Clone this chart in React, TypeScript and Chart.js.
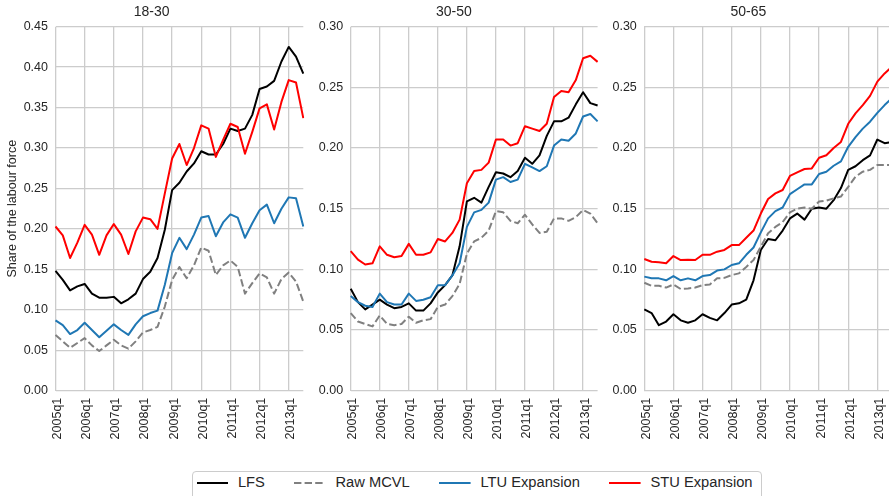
import React, { useEffect, useRef } from 'react';
import { Chart, registerables } from 'chart.js';

Chart.register(...registerables);

const FONT = '"Liberation Sans", Arial, Helvetica, sans-serif';
const TEXT = '#262626';
const GRID = '#cccccc';

const quarters = [
  '2005q1', '2005q2', '2005q3', '2005q4',
  '2006q1', '2006q2', '2006q3', '2006q4',
  '2007q1', '2007q2', '2007q3', '2007q4',
  '2008q1', '2008q2', '2008q3', '2008q4',
  '2009q1', '2009q2', '2009q3', '2009q4',
  '2010q1', '2010q2', '2010q3', '2010q4',
  '2011q1', '2011q2', '2011q3', '2011q4',
  '2012q1', '2012q2', '2012q3', '2012q4',
  '2013q1', '2013q2', '2013q3',
];

const yearTicks = ['2005q1', '2006q1', '2007q1', '2008q1', '2009q1', '2010q1', '2011q1', '2012q1', '2013q1'];

const seriesNames = ['LFS', 'Raw MCVL', 'LTU Expansion', 'STU Expansion'];
const panelTitles = ['18-30', '30-50', '50-65'];
const yMaxes = [0.45, 0.3, 0.3];

// 18-30
const lfs1830 = [0.148, 0.137, 0.124, 0.129, 0.132, 0.120, 0.115, 0.115, 0.116, 0.108, 0.113, 0.120, 0.138, 0.147, 0.164, 0.199, 0.248, 0.257, 0.271, 0.281, 0.296, 0.292, 0.292, 0.305, 0.324, 0.321, 0.324, 0.341, 0.373, 0.376, 0.383, 0.407, 0.425, 0.413, 0.392];
const mcvl1830 = [0.069, 0.061, 0.053, 0.059, 0.065, 0.056, 0.049, 0.056, 0.063, 0.056, 0.052, 0.061, 0.072, 0.075, 0.079, 0.104, 0.137, 0.153, 0.139, 0.155, 0.177, 0.173, 0.143, 0.155, 0.161, 0.153, 0.120, 0.133, 0.145, 0.140, 0.120, 0.138, 0.146, 0.135, 0.110];
const ltu1830 = [0.087, 0.081, 0.070, 0.075, 0.084, 0.075, 0.066, 0.074, 0.082, 0.075, 0.069, 0.082, 0.092, 0.096, 0.099, 0.131, 0.170, 0.189, 0.175, 0.193, 0.214, 0.216, 0.191, 0.208, 0.218, 0.214, 0.189, 0.207, 0.223, 0.230, 0.207, 0.225, 0.239, 0.238, 0.203];
const stu1830 = [0.203, 0.192, 0.164, 0.183, 0.205, 0.193, 0.168, 0.192, 0.206, 0.193, 0.169, 0.197, 0.214, 0.212, 0.200, 0.244, 0.287, 0.305, 0.279, 0.300, 0.328, 0.324, 0.289, 0.310, 0.330, 0.326, 0.293, 0.320, 0.349, 0.354, 0.323, 0.357, 0.384, 0.381, 0.337];

// 30-50
const lfs3050 = [0.084, 0.073, 0.067, 0.071, 0.075, 0.071, 0.068, 0.069, 0.072, 0.066, 0.066, 0.072, 0.081, 0.087, 0.095, 0.119, 0.156, 0.159, 0.155, 0.168, 0.180, 0.179, 0.176, 0.181, 0.192, 0.187, 0.194, 0.210, 0.222, 0.222, 0.225, 0.236, 0.246, 0.237, 0.235];
const mcvl3050 = [0.064, 0.057, 0.055, 0.053, 0.062, 0.055, 0.054, 0.055, 0.061, 0.056, 0.058, 0.059, 0.069, 0.071, 0.078, 0.088, 0.113, 0.123, 0.126, 0.132, 0.148, 0.147, 0.140, 0.138, 0.145, 0.137, 0.130, 0.131, 0.142, 0.142, 0.140, 0.143, 0.149, 0.146, 0.138];
const ltu3050 = [0.078, 0.073, 0.070, 0.069, 0.080, 0.073, 0.071, 0.071, 0.080, 0.074, 0.075, 0.077, 0.087, 0.087, 0.095, 0.105, 0.135, 0.147, 0.149, 0.155, 0.174, 0.176, 0.172, 0.174, 0.187, 0.184, 0.181, 0.185, 0.202, 0.207, 0.206, 0.212, 0.226, 0.228, 0.222];
const stu3050 = [0.115, 0.108, 0.104, 0.105, 0.119, 0.112, 0.110, 0.111, 0.121, 0.112, 0.112, 0.114, 0.125, 0.123, 0.130, 0.141, 0.171, 0.181, 0.182, 0.188, 0.207, 0.207, 0.202, 0.204, 0.218, 0.216, 0.214, 0.220, 0.242, 0.247, 0.246, 0.256, 0.274, 0.276, 0.271];

// 50-65
const lfs5065 = [0.067, 0.064, 0.054, 0.057, 0.063, 0.058, 0.056, 0.058, 0.063, 0.060, 0.058, 0.064, 0.071, 0.072, 0.075, 0.091, 0.116, 0.125, 0.124, 0.132, 0.142, 0.146, 0.141, 0.150, 0.151, 0.150, 0.157, 0.167, 0.182, 0.185, 0.190, 0.194, 0.207, 0.204, 0.205];
const mcvl5065 = [0.089, 0.0865, 0.0865, 0.085, 0.0876, 0.0838, 0.0843, 0.085, 0.087, 0.0876, 0.0926, 0.093, 0.0953, 0.0967, 0.102, 0.1077, 0.1187, 0.1297, 0.135, 0.139, 0.147, 0.150, 0.151, 0.150, 0.156, 0.1566, 0.1585, 0.160, 0.168, 0.1764, 0.1805, 0.182, 0.186, 0.186, 0.186];
const ltu5065 = [0.094, 0.0926, 0.0926, 0.091, 0.0945, 0.091, 0.0926, 0.091, 0.0945, 0.0953, 0.099, 0.100, 0.1036, 0.105, 0.112, 0.118, 0.1305, 0.142, 0.148, 0.151, 0.162, 0.166, 0.170, 0.170, 0.1786, 0.1805, 0.1854, 0.189, 0.201, 0.209, 0.216, 0.2217, 0.229, 0.2354, 0.241];
const stu5065 = [0.1085, 0.1063, 0.1058, 0.105, 0.111, 0.1077, 0.108, 0.1077, 0.112, 0.112, 0.1146, 0.116, 0.120, 0.120, 0.126, 0.132, 0.146, 0.158, 0.1626, 0.1654, 0.177, 0.180, 0.1827, 0.1832, 0.192, 0.194, 0.200, 0.205, 0.220, 0.2286, 0.2354, 0.243, 0.2547, 0.2615, 0.267];

const seriesColors = ['#000000', '#808080', '#1f77b4', '#ff0000'];
const seriesDash: number[][] = [[], [7.4, 3.2], [], []];

type PanelProps = {
  title: string;
  yMax: number;
  series: number[][];
  left: number;
  width: number;
  axisW: number;
  padRight: number;
  yTitle?: string;
};

const CANVAS_H = 450;
const PLOT_TOP = 26.7;
const PLOT_BOTTOM = 390.7;

function Panel({ title, yMax, series, left, width, axisW, padRight, yTitle }: PanelProps) {
  const ref = useRef<HTMLCanvasElement | null>(null);
  useEffect(() => {
    if (!ref.current) return;
    const order = [3, 2, 1, 0];
    const chart = new Chart(ref.current, {
      type: 'line',
      data: {
        labels: quarters,
        datasets: series.map((vals, k) => ({
          label: seriesNames[k],
          data: vals,
          borderColor: seriesColors[k],
          backgroundColor: seriesColors[k],
          borderDash: seriesDash[k],
          borderWidth: 2,
          pointRadius: 0,
          tension: 0,
          fill: false,
          order: order[k],
          borderJoinStyle: 'round' as const,
        })),
      },
      options: {
        responsive: false,
        animation: false,
        devicePixelRatio: 1,
        layout: { padding: { top: 0, left: 0, bottom: 0, right: padRight } },
        plugins: {
          legend: { display: false },
          tooltip: { enabled: false },
          title: {
            display: true,
            text: title,
            color: TEXT,
            font: { family: FONT, size: 14, weight: 'normal' as const },
            padding: { top: 4, bottom: PLOT_TOP - 4 - 14 * 1.2 },
          },
        },
        scales: {
          x: {
            type: 'category',
            grid: {
              color: (ctx: any) => (yearTicks.includes(quarters[ctx.index]) ? GRID : 'rgba(0,0,0,0)'),
              lineWidth: 1.3,
              drawTicks: false,
            },
            border: { display: false },
            ticks: {
              autoSkip: false,
              maxRotation: 90,
              minRotation: 90,
              padding: 7,
              labelOffset: 2,
              color: TEXT,
              font: { family: FONT, size: 12.5 },
              callback: (_v: any, i: number) => (yearTicks.includes(quarters[i]) ? quarters[i] : ''),
            },
            afterFit: (s: any) => {
              s.height = CANVAS_H - PLOT_BOTTOM;
              s.paddingLeft = 0;
              s.paddingRight = 0;
            },
          },
          y: {
            type: 'linear',
            min: 0,
            max: yMax,
            grid: { color: GRID, lineWidth: 1.3, drawTicks: false },
            border: { display: false },
            ticks: {
              stepSize: 0.05,
              padding: 7.5,
              color: TEXT,
              font: { family: FONT, size: 12.5 },
              callback: (v: any) => Number(v).toFixed(2),
            },
            title: {
              display: !!yTitle,
              text: yTitle || '',
              color: TEXT,
              font: { family: FONT, size: 12.5 },
              padding: { top: 5, bottom: 0 },
            },
            afterFit: (s: any) => {
              s.width = axisW;
            },
          },
        },
      },
    });
    return () => chart.destroy();
  }, []);
  return (
    <canvas
      ref={ref}
      width={width}
      height={CANVAS_H}
      style={{ position: 'absolute', left, top: 0, width, height: CANVAS_H, display: 'block' }}
    />
  );
}

function LegendItem({ k }: { k: number }) {
  return (
    <div style={{ display: 'flex', alignItems: 'center' }}>
      <svg width={31.6} height={6} style={{ marginRight: 9.6, display: 'block' }}>
        <line
          x1={0}
          y1={3}
          x2={31.6}
          y2={3}
          stroke={seriesColors[k]}
          strokeWidth={2}
          strokeDasharray={seriesDash[k].length ? seriesDash[k].join(' ') : undefined}
        />
      </svg>
      <span style={{ fontFamily: FONT, fontSize: 14.7, color: TEXT, whiteSpace: 'nowrap', lineHeight: '17px' }}>
        {seriesNames[k]}
      </span>
    </div>
  );
}

export default function App() {
  return (
    <div
      style={{
        position: 'fixed',
        left: 0,
        top: 0,
        width: 889,
        height: 496,
        overflow: 'hidden',
        background: '#ffffff',
      }}
    >
      <Panel title={panelTitles[0]} yMax={yMaxes[0]} series={[lfs1830, mcvl1830, ltu1830, stu1830]} left={0} width={310} axisW={55.5} padRight={6.7} yTitle="Share of the labour force" />
      <Panel title={panelTitles[1]} yMax={yMaxes[1]} series={[lfs3050, mcvl3050, ltu3050, stu3050]} left={310} width={295} axisW={40.7} padRight={7.4} />
      <Panel title={panelTitles[2]} yMax={yMaxes[2]} series={[lfs5065, mcvl5065, ltu5065, stu5065]} left={605} width={295} axisW={39.3} padRight={8.1} />
      <div
        style={{
          position: 'absolute',
          left: 192.3,
          top: 471.3,
          width: 569.4,
          height: 40,
          boxSizing: 'border-box',
          border: '1px solid #cccccc',
          borderRadius: 4,
          background: '#ffffff',
        }}
      >
        <div style={{ display: 'flex', alignItems: 'center', height: 21.4, paddingLeft: 3.4, columnGap: 29.5 }}>
          {[0, 1, 2, 3].map((k) => (
            <LegendItem key={k} k={k} />
          ))}
        </div>
      </div>
    </div>
  );
}
